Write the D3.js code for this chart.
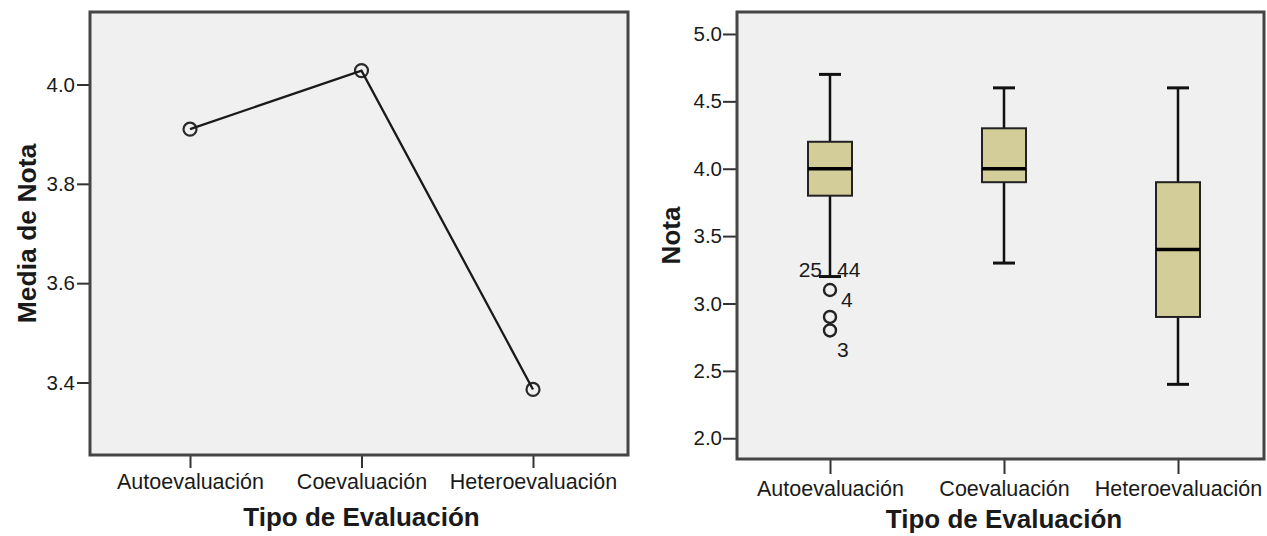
<!doctype html>
<html lang="es">

<head>
    <meta charset="UTF-8" />
    <script src="https://d3js.org/d3.v7.min.js"></script>
    <title>Nota por Tipo de Evaluación</title>
    <style>
        body { margin: 0; background: #fff; }
        text { font-family: "Liberation Sans", Arial, sans-serif; fill: #1a1a1a; }
    </style>
</head>

<body>
    <div id="chart"></div>
    <script type="module">
        // Data
        const categories = ["Autoevaluación", "Coevaluación", "Heteroevaluación"]
        const meanValues = [3.91, 4.028, 3.386]
        const meanTicks = [3.4, 3.6, 3.8, 4.0]

        const notaTicks = [2.0, 2.5, 3.0, 3.5, 4.0, 4.5, 5.0]
        const boxLow = [3.2, 3.3, 2.4]
        const boxQ1 = [3.8, 3.9, 2.9]
        const boxMedian = [4.0, 4.0, 3.4]
        const boxQ3 = [4.2, 4.3, 3.9]
        const boxHigh = [4.7, 4.6, 4.6]

        // outliers (all in Autoevaluación)
        const outlierValues = [3.1, 2.9, 2.8]
        const outlierLabels = ["25", "44", "4", "3"]
        const outlierLabelValues = [3.2, 3.2, 3.1, 2.8]

        // label placement next to the points (pixels)
        const labelOffsets = [
            { dx: -8, dy: 0, anchor: "end" },
            { dx: 7, dy: 0, anchor: "start" },
            { dx: 11, dy: 17, anchor: "start" },
            { dx: 7, dy: 27, anchor: "start" }
        ]

        const W = 1267, H = 536
        const svg = d3.select("#chart").append("svg")
            .attr("width", W)
            .attr("height", H)

        const frameStroke = "#454545"
        const plotBg = "#f0f0f0"

        function styleAxis(g, size) {
            g.select(".domain").remove()
            g.selectAll(".tick line").attr("stroke", "#333").attr("stroke-width", 2)
            g.selectAll(".tick text")
                .attr("fill", "#1a1a1a")
                .style("font-size", size + "px")
                .style("font-family", "'Liberation Sans', Arial, sans-serif")
        }

        // ---------- Left: mean line chart ----------
        const L = { left: 90, right: 628, top: 12, bottom: 455 }

        const xL = d3.scalePoint().domain(categories).range([190, 533])
        const yL = d3.scaleLinear().domain([3.254, 4.146]).range([L.bottom, L.top])

        const left = svg.append("g")

        left.append("rect")
            .attr("x", L.left)
            .attr("y", L.top)
            .attr("width", L.right - L.left)
            .attr("height", L.bottom - L.top)
            .attr("fill", plotBg)

        const lyAxis = left.append("g")
            .attr("transform", `translate(${L.left}, 0)`)
            .call(d3.axisLeft(yL).tickValues(meanTicks).tickSize(13).tickPadding(2).tickFormat(d3.format(".1f")))
        styleAxis(lyAxis, 20.5)

        const lxAxis = left.append("g")
            .attr("transform", `translate(0, ${L.bottom})`)
            .call(d3.axisBottom(xL).tickSize(13).tickPadding(6))
        styleAxis(lxAxis, 21.5)

        const meanData = categories.map((c, i) => ({ cat: c, value: meanValues[i] }))

        left.selectAll("circle.mean")
            .data(meanData)
            .enter()
            .append("circle")
            .attr("class", "mean")
            .attr("cx", d => xL(d.cat))
            .attr("cy", d => yL(d.value))
            .attr("r", 6.5)
            .attr("fill", "none")
            .attr("stroke", "#2a2a2a")
            .attr("stroke-width", 2.2)

        left.append("path")
            .datum(meanData)
            .attr("fill", "none")
            .attr("stroke", "#1a1a1a")
            .attr("stroke-width", 2.3)
            .attr("d", d3.line().x(d => xL(d.cat)).y(d => yL(d.value)))

        left.append("rect")
            .attr("x", L.left)
            .attr("y", L.top)
            .attr("width", L.right - L.left)
            .attr("height", L.bottom - L.top)
            .attr("fill", "none")
            .attr("stroke", frameStroke)
            .attr("stroke-width", 3)

        left.append("text")
            .attr("x", xL(categories[1]))
            .attr("y", 526)
            .attr("text-anchor", "middle")
            .style("font-size", "26px")
            .style("font-weight", "bold")
            .text("Tipo de Evaluación")

        left.append("text")
            .attr("transform", `translate(36, ${(L.top + L.bottom) / 2}) rotate(-90)`)
            .attr("text-anchor", "middle")
            .style("font-size", "26.5px")
            .style("font-weight", "bold")
            .text("Media de Nota")

        // ---------- Right: boxplot ----------
        const R = { left: 737, right: 1264, top: 12, bottom: 459 }

        const xR = d3.scalePoint().domain(categories).range([830, 1178])
        const yR = d3.scaleLinear().domain([1.846, 5.163]).range([R.bottom, R.top])

        const right = svg.append("g")

        right.append("rect")
            .attr("x", R.left)
            .attr("y", R.top)
            .attr("width", R.right - R.left)
            .attr("height", R.bottom - R.top)
            .attr("fill", plotBg)

        const ryAxis = right.append("g")
            .attr("transform", `translate(${R.left}, 0)`)
            .call(d3.axisLeft(yR).tickValues(notaTicks).tickSize(14).tickPadding(1).tickFormat(d3.format(".1f")))
        styleAxis(ryAxis, 20.5)

        const rxAxis = right.append("g")
            .attr("transform", `translate(0, ${R.bottom})`)
            .call(d3.axisBottom(xR).tickSize(15).tickPadding(7))
        styleAxis(rxAxis, 21.5)

        const boxes = categories.map((c, i) => ({
            cat: c, low: boxLow[i], q1: boxQ1[i], med: boxMedian[i], q3: boxQ3[i], high: boxHigh[i]
        }))

        const boxW = 44
        const capW = 22

        const bg = right.selectAll("g.box")
            .data(boxes)
            .enter()
            .append("g")
            .attr("class", "box")

        // whiskers
        bg.append("line")
            .attr("x1", d => xR(d.cat)).attr("x2", d => xR(d.cat))
            .attr("y1", d => yR(d.low)).attr("y2", d => yR(d.high))
            .attr("stroke", "#111").attr("stroke-width", 2.5)

        bg.append("line")
            .attr("x1", d => xR(d.cat) - capW / 2).attr("x2", d => xR(d.cat) + capW / 2)
            .attr("y1", d => yR(d.low)).attr("y2", d => yR(d.low))
            .attr("stroke", "#111").attr("stroke-width", 3)

        bg.append("line")
            .attr("x1", d => xR(d.cat) - capW / 2).attr("x2", d => xR(d.cat) + capW / 2)
            .attr("y1", d => yR(d.high)).attr("y2", d => yR(d.high))
            .attr("stroke", "#111").attr("stroke-width", 3)

        bg.append("rect")
            .attr("x", d => xR(d.cat) - boxW / 2)
            .attr("y", d => yR(d.q3))
            .attr("width", boxW)
            .attr("height", d => yR(d.q1) - yR(d.q3))
            .attr("fill", "#d3ce99")
            .attr("stroke", "#222")
            .attr("stroke-width", 2)

        bg.append("line")
            .attr("x1", d => xR(d.cat) - boxW / 2).attr("x2", d => xR(d.cat) + boxW / 2)
            .attr("y1", d => yR(d.med)).attr("y2", d => yR(d.med))
            .attr("stroke", "#000").attr("stroke-width", 3.5)

        // outliers
        right.selectAll("circle.out")
            .data(outlierValues)
            .enter()
            .append("circle")
            .attr("class", "out")
            .attr("cx", xR(categories[0]))
            .attr("cy", d => yR(d))
            .attr("r", 6)
            .attr("fill", "none")
            .attr("stroke", "#222")
            .attr("stroke-width", 2.4)

        right.selectAll("text.outlab")
            .data(outlierLabels)
            .enter()
            .append("text")
            .attr("class", "outlab")
            .attr("x", (d, i) => xR(categories[0]) + labelOffsets[i].dx)
            .attr("y", (d, i) => yR(outlierLabelValues[i]) + labelOffsets[i].dy)
            .attr("text-anchor", (d, i) => labelOffsets[i].anchor)
            .style("font-size", "21px")
            .text(d => d)

        right.append("rect")
            .attr("x", R.left)
            .attr("y", R.top)
            .attr("width", R.right - R.left)
            .attr("height", R.bottom - R.top)
            .attr("fill", "none")
            .attr("stroke", frameStroke)
            .attr("stroke-width", 3)

        right.append("text")
            .attr("x", xR(categories[1]))
            .attr("y", 528)
            .attr("text-anchor", "middle")
            .style("font-size", "26px")
            .style("font-weight", "bold")
            .text("Tipo de Evaluación")

        right.append("text")
            .attr("transform", `translate(680, ${(R.top + R.bottom) / 2}) rotate(-90)`)
            .attr("text-anchor", "middle")
            .style("font-size", "26px")
            .style("font-weight", "bold")
            .text("Nota")
    </script>
</body>

</html>
